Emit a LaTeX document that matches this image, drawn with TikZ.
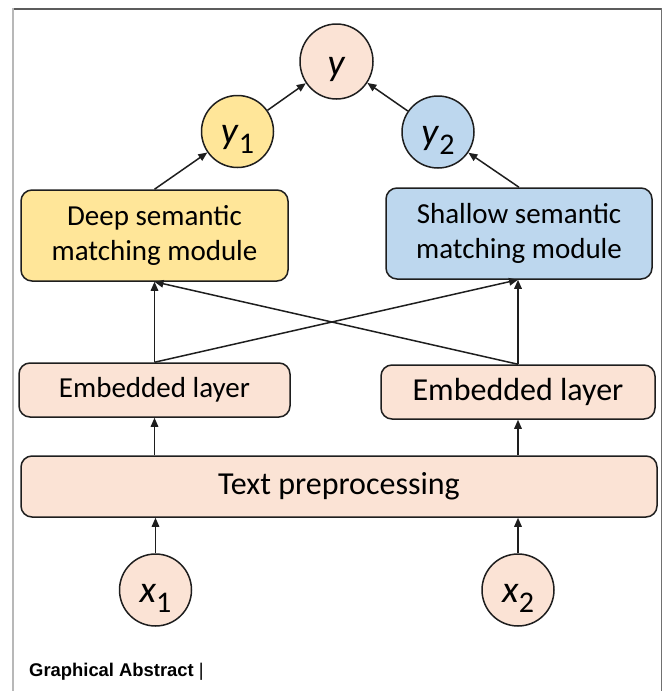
\documentclass[tikz,border=0pt]{standalone}
\usepackage{fontspec}
\setmainfont{Carlito}
\newfontfamily\capfont{Liberation Sans}
\usetikzlibrary{shapes.geometric,arrows.meta}
\definecolor{peach}{HTML}{FBE3D5}
\definecolor{gold}{HTML}{FFE699}
\definecolor{skyblue}{HTML}{BDD7EE}
\definecolor{edge}{HTML}{1E1E1E}
\definecolor{framedark}{HTML}{5C5C5C}
\definecolor{framelight}{HTML}{B8B8B8}
\definecolor{framemid}{HTML}{707070}
% italic variable (baseline set below the node centre) with a large lowered index
\newcommand{\nodevar}[1]{\raisebox{-14pt}[0pt][0pt]{\textit{#1}}}
\newcommand{\nodesub}[2]{\raisebox{-12pt}[0pt][0pt]{\textit{#1}\raisebox{-10pt}{\fontsize{30}{30}\selectfont #2}}}
\begin{document}
\begin{tikzpicture}[x=1pt,y=-1pt,
  box/.style={draw=edge,line width=1.5pt,rounded corners=11pt,align=center,inner sep=0pt,text=black},
  var/.style={ellipse,draw=edge,line width=1.5pt,fill=peach,minimum width=72pt,minimum height=72pt,inner sep=0pt,text=black,font=\fontsize{38}{38}\selectfont},
  flow/.style={-{Triangle[length=9pt,width=7.5pt]},line width=1.5pt,draw=edge},
  modfont/.style={font=\fontsize{29}{34.5}\selectfont},
  bigfont/.style={font=\fontsize{32}{36}\selectfont}]
\useasboundingbox (0,0) rectangle (663,691);

% page frame
\draw[framedark,line width=2pt] (12,8.5) -- (662,8.5);
\draw[framelight,line width=2.5pt] (12.8,8) -- (12.8,691);
\draw[framemid,line width=1.5pt] (661.5,8) -- (661.5,691);

% outputs
\node[var,minimum width=73pt,minimum height=75pt] (y) at (336.5,61.5) {\nodevar{y}};
\node[var,fill=gold] (y1) at (237.5,131.5) {\nodesub{y}{1}};
\node[var,fill=skyblue] (y2) at (438,132) {\nodesub{y}{2}};

% matching modules
\node[box,fill=gold,minimum width=267pt,minimum height=91pt,modfont] (deep) at (154.5,235.5) {Deep semantic\\matching module};
\node[box,fill=skyblue,minimum width=266pt,minimum height=91pt,modfont] (shallow) at (519,233.5) {Shallow semantic\\matching module};

% embeddings and preprocessing
\node[box,fill=peach,minimum width=271pt,minimum height=54pt,modfont] (embL) at (154.5,390) {Embedded layer};
\node[box,fill=peach,minimum width=274pt,minimum height=54pt,bigfont] (embR) at (518,392) {Embedded layer};
\node[box,fill=peach,minimum width=636pt,minimum height=61pt,bigfont] (prep) at (339,486.5) {Text preprocessing};

% inputs
\node[var] (x1) at (155.5,590) {\nodesub{x}{1}};
\node[var] (x2) at (518,590) {\nodesub{x}{2}};

% connectors
\draw[flow] (x1.north) -- (x1.north |- prep.south);
\draw[flow] (x2.north) -- (x2.north |- prep.south);
\draw[flow] (embL.south |- prep.north) -- (embL.south);
\draw[flow] (embR.south |- prep.north) -- (embR.south);
\draw[flow] (embL.north) -- (deep.south);
\draw[flow] (embR.north) -- (embR.north |- shallow.south);
\draw[flow] (embL.north) -- (embR.north |- shallow.south);
\draw[flow] (embR.north) -- (deep.south);
\draw[flow] (deep.north) -- (y1);
\draw[flow] (shallow.north) -- (y2);
\draw[flow] (y1) -- (y);
\draw[flow] (y2) -- (y);

% caption
\node[anchor=base west,inner sep=0pt,font=\capfont\fontsize{18.4}{18.4}\selectfont] (cap) at (29,676) {\textbf{Graphical Abstract} |};
\end{tikzpicture}
\end{document}
